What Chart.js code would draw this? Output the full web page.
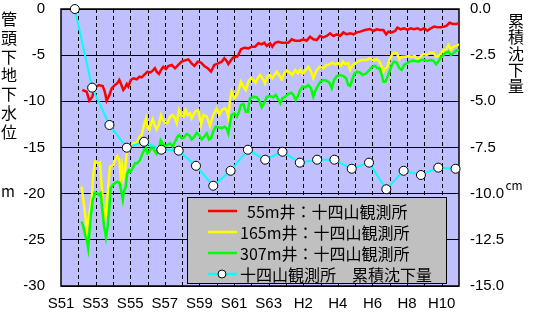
<!DOCTYPE html>
<html><head><meta charset="utf-8">
<script src="https://cdn.jsdelivr.net/npm/chart.js@4/dist/chart.umd.min.js"></script>
<style>html,body{margin:0;padding:0;background:#fff;}canvas{display:block;}</style>
</head><body>
<canvas id="c" width="533" height="320"></canvas>
<script>
// ---- data (year as decimal, value) ----
const xTickYears = [1976,1977,1978,1979,1980,1981,1982,1983,1984,1985,1986,1987,1988,1989,1990,1991,1992,1993,1994,1995,1996,1997,1998,1999];
const yLeftTicks = [0,-5,-10,-15,-20,-25,-30];
const yRightTicks = [0,-2.5,-5,-7.5,-10,-12.5,-15];

const well55 = [[1977.23,-8.77],[1977.48,-8.95],[1977.64,-9.93],[1977.81,-9.5],[1977.97,-8.48],[1978.2,-8.23],[1978.41,-8.34],[1978.53,-8.95],[1978.64,-9.93],[1978.8,-9.31],[1978.93,-8.59],[1979.12,-8.23],[1979.25,-8.05],[1979.37,-7.69],[1979.47,-8.12],[1979.6,-8.77],[1979.7,-8.52],[1979.8,-8.12],[1979.89,-8.41],[1980.03,-7.69],[1980.18,-7.5],[1980.38,-7.61],[1980.53,-7.33],[1980.66,-7.4],[1980.86,-7.04],[1980.99,-6.79],[1981.14,-6.9],[1981.3,-6.68],[1981.43,-6.42],[1981.53,-6.79],[1981.66,-7.04],[1981.78,-6.6],[1981.91,-6.25],[1982.07,-6.5],[1982.2,-6.17],[1982.4,-6.06],[1982.59,-6.42],[1982.78,-6.06],[1982.97,-5.7],[1983.17,-5.56],[1983.36,-5.45],[1983.55,-5.88],[1983.71,-6.17],[1983.9,-5.7],[1984.09,-5.81],[1984.28,-6.17],[1984.48,-6.42],[1984.67,-6.79],[1984.86,-6.06],[1985.09,-5.88],[1985.29,-5.7],[1985.44,-5.34],[1985.57,-5.63],[1985.67,-5.96],[1985.83,-5.52],[1985.96,-5.23],[1986.16,-5.17],[1986.25,-4.98],[1986.4,-4.36],[1986.6,-4.19],[1986.83,-4.26],[1987.02,-4.08],[1987.21,-4.08],[1987.41,-3.71],[1987.6,-3.82],[1987.75,-3.65],[1987.89,-4.0],[1988.08,-3.71],[1988.21,-4.08],[1988.37,-3.65],[1988.56,-3.54],[1988.76,-3.65],[1988.95,-3.65],[1989.14,-3.65],[1989.34,-3.28],[1989.53,-3.43],[1989.82,-3.43],[1990.0,-3.28],[1990.2,-3.43],[1990.39,-3.0],[1990.58,-3.28],[1990.78,-3.36],[1990.97,-2.9],[1991.16,-3.07],[1991.36,-2.92],[1991.55,-2.64],[1991.74,-2.92],[1991.94,-2.74],[1992.13,-2.92],[1992.32,-2.53],[1992.51,-2.74],[1992.71,-2.64],[1992.9,-2.74],[1993.1,-2.53],[1993.29,-2.45],[1993.57,-2.27],[1993.86,-2.17],[1994.05,-2.38],[1994.25,-2.2],[1994.44,-2.27],[1994.63,-2.27],[1994.79,-2.74],[1994.92,-2.45],[1995.12,-2.53],[1995.31,-2.38],[1995.44,-2.02],[1995.64,-2.2],[1995.83,-2.09],[1996.02,-2.27],[1996.21,-2.09],[1996.4,-2.2],[1996.6,-2.09],[1996.79,-2.27],[1996.98,-2.09],[1997.17,-2.35],[1997.37,-2.09],[1997.56,-1.91],[1997.75,-1.98],[1997.95,-1.98],[1998.14,-1.91],[1998.29,-1.8],[1998.45,-1.48],[1998.64,-1.62],[1998.83,-1.62],[1999.0,-1.55]];

const well165 = [[1977.19,-19.24],[1977.29,-20.68],[1977.39,-22.13],[1977.49,-23.93],[1977.77,-20.68],[1977.87,-17.79],[1977.97,-16.53],[1978.16,-16.71],[1978.25,-16.64],[1978.35,-19.24],[1978.45,-21.41],[1978.54,-22.8],[1978.64,-21.41],[1978.73,-19.24],[1978.83,-17.08],[1979.02,-16.9],[1979.12,-16.35],[1979.25,-15.92],[1979.37,-16.35],[1979.45,-18.16],[1979.53,-17.08],[1979.6,-18.34],[1979.7,-17.44],[1979.8,-15.63],[1979.89,-14.91],[1980.03,-14.91],[1980.18,-14.55],[1980.38,-14.48],[1980.53,-13.83],[1980.66,-13.65],[1980.8,-12.56],[1980.91,-11.84],[1980.99,-12.75],[1981.1,-13.1],[1981.18,-12.56],[1981.3,-11.95],[1981.41,-12.56],[1981.53,-13.03],[1981.65,-12.56],[1981.78,-11.48],[1981.91,-12.02],[1982.01,-12.38],[1982.14,-12.38],[1982.3,-11.66],[1982.45,-11.48],[1982.59,-11.84],[1982.69,-12.38],[1982.82,-10.94],[1982.94,-11.48],[1983.07,-11.66],[1983.2,-10.94],[1983.32,-11.48],[1983.46,-11.3],[1983.55,-11.84],[1983.75,-11.12],[1983.94,-10.94],[1984.09,-12.56],[1984.23,-11.48],[1984.42,-11.66],[1984.61,-12.67],[1984.8,-11.48],[1985.0,-10.76],[1985.15,-11.48],[1985.29,-10.94],[1985.44,-10.76],[1985.57,-10.94],[1985.67,-11.66],[1985.77,-9.86],[1985.86,-8.95],[1986.02,-9.67],[1986.16,-9.31],[1986.29,-8.59],[1986.4,-7.87],[1986.54,-8.41],[1986.68,-8.77],[1986.83,-7.87],[1986.98,-7.5],[1987.12,-7.69],[1987.25,-7.98],[1987.37,-7.5],[1987.5,-7.15],[1987.64,-7.5],[1987.79,-8.05],[1987.95,-7.26],[1988.08,-7.15],[1988.21,-7.5],[1988.33,-7.15],[1988.47,-6.79],[1988.6,-7.15],[1988.76,-7.61],[1988.91,-6.9],[1989.05,-6.68],[1989.24,-6.9],[1989.37,-7.15],[1989.53,-6.6],[1989.68,-6.96],[1989.82,-6.6],[1989.95,-7.04],[1990.1,-6.68],[1990.29,-6.25],[1990.45,-6.79],[1990.58,-7.5],[1990.78,-6.6],[1990.97,-6.25],[1991.16,-6.42],[1991.32,-6.06],[1991.45,-6.06],[1991.65,-5.81],[1991.84,-5.99],[1992.03,-5.88],[1992.17,-6.17],[1992.28,-5.7],[1992.42,-5.96],[1992.61,-5.88],[1992.71,-6.6],[1992.86,-6.06],[1993.05,-5.81],[1993.24,-5.6],[1993.44,-5.52],[1993.67,-5.52],[1993.86,-5.34],[1994.05,-5.6],[1994.25,-5.45],[1994.4,-5.7],[1994.54,-6.25],[1994.63,-6.79],[1994.75,-6.42],[1994.86,-6.25],[1994.98,-5.52],[1995.12,-4.98],[1995.25,-4.73],[1995.4,-4.73],[1995.55,-5.45],[1995.69,-5.17],[1995.88,-5.17],[1996.08,-5.09],[1996.27,-5.17],[1996.45,-5.09],[1996.6,-5.6],[1996.76,-5.17],[1996.94,-4.87],[1997.14,-4.98],[1997.33,-4.73],[1997.52,-4.73],[1997.68,-5.17],[1997.81,-5.09],[1997.95,-4.8],[1998.1,-4.44],[1998.25,-4.37],[1998.39,-3.9],[1998.52,-4.37],[1998.68,-4.08],[1998.83,-4.0],[1999.0,-3.83]];

const well307 = [[1977.19,-23.03],[1977.29,-23.57],[1977.39,-24.47],[1977.49,-25.0],[1977.57,-25.9],[1977.64,-24.29],[1977.72,-22.49],[1977.83,-20.68],[1977.97,-19.89],[1978.1,-19.96],[1978.21,-20.14],[1978.29,-19.96],[1978.39,-21.77],[1978.49,-23.57],[1978.6,-24.75],[1978.7,-23.57],[1978.8,-21.41],[1978.87,-19.42],[1978.99,-19.06],[1979.12,-18.88],[1979.25,-18.7],[1979.37,-18.81],[1979.47,-19.6],[1979.57,-20.68],[1979.64,-19.78],[1979.74,-19.24],[1979.83,-17.79],[1979.93,-17.44],[1980.03,-17.62],[1980.14,-17.25],[1980.28,-16.71],[1980.41,-16.71],[1980.57,-16.35],[1980.68,-15.81],[1980.8,-15.27],[1980.91,-15.09],[1980.99,-15.63],[1981.1,-15.45],[1981.24,-14.91],[1981.38,-15.27],[1981.53,-15.7],[1981.65,-15.27],[1981.76,-14.19],[1981.88,-14.55],[1981.99,-14.91],[1982.14,-14.73],[1982.3,-14.55],[1982.45,-14.91],[1982.59,-14.37],[1982.72,-13.83],[1982.84,-13.65],[1982.98,-14.0],[1983.11,-13.9],[1983.27,-13.54],[1983.42,-13.7],[1983.55,-14.12],[1983.71,-13.83],[1983.84,-13.4],[1983.98,-13.65],[1984.13,-14.12],[1984.28,-13.83],[1984.42,-13.47],[1984.55,-14.12],[1984.67,-14.0],[1984.8,-13.29],[1984.94,-12.75],[1985.09,-12.81],[1985.29,-12.92],[1985.44,-12.75],[1985.57,-12.92],[1985.67,-13.47],[1985.77,-12.38],[1985.86,-11.48],[1986.02,-11.3],[1986.16,-11.66],[1986.29,-11.12],[1986.4,-10.4],[1986.54,-10.29],[1986.68,-11.12],[1986.79,-11.12],[1986.92,-9.67],[1987.12,-9.5],[1987.31,-9.56],[1987.45,-9.86],[1987.6,-10.65],[1987.75,-10.15],[1987.89,-9.5],[1988.08,-9.42],[1988.27,-9.56],[1988.41,-9.31],[1988.56,-9.78],[1988.68,-10.22],[1988.79,-9.67],[1988.95,-9.5],[1989.14,-9.2],[1989.31,-9.06],[1989.43,-9.31],[1989.57,-9.86],[1989.68,-9.5],[1989.82,-8.77],[1989.95,-8.41],[1990.14,-8.48],[1990.29,-8.23],[1990.45,-8.59],[1990.58,-9.5],[1990.72,-8.77],[1990.87,-8.23],[1990.99,-7.87],[1991.16,-7.69],[1991.36,-7.76],[1991.51,-7.98],[1991.65,-8.59],[1991.78,-7.69],[1991.94,-7.26],[1992.13,-7.15],[1992.32,-7.26],[1992.48,-7.5],[1992.59,-8.23],[1992.71,-8.34],[1992.83,-7.69],[1992.95,-7.04],[1993.1,-6.79],[1993.29,-6.9],[1993.44,-7.15],[1993.64,-6.96],[1993.83,-6.6],[1993.99,-6.25],[1994.16,-6.17],[1994.28,-6.42],[1994.4,-6.42],[1994.54,-7.15],[1994.63,-7.87],[1994.75,-7.87],[1994.86,-7.4],[1994.98,-6.79],[1995.12,-6.06],[1995.25,-5.7],[1995.4,-5.81],[1995.55,-6.42],[1995.69,-6.6],[1995.83,-6.06],[1995.99,-5.88],[1996.13,-5.7],[1996.32,-5.6],[1996.51,-5.63],[1996.65,-5.7],[1996.79,-5.52],[1996.98,-5.52],[1997.17,-5.63],[1997.37,-5.52],[1997.52,-5.6],[1997.68,-5.99],[1997.81,-5.7],[1997.95,-5.23],[1998.1,-4.98],[1998.25,-4.73],[1998.39,-4.62],[1998.52,-4.98],[1998.68,-4.8],[1998.83,-4.51],[1999.0,-4.44]];

const subsidenceYears = [1976.8,1977.8,1978.8,1979.8,1980.8,1981.8,1982.8,1983.8,1984.8,1985.8,1986.8,1987.8,1988.8,1989.8,1990.8,1991.8,1992.8,1993.8,1994.8,1995.8,1996.8,1997.8,1998.8];
const subsidenceCm = [0,-4.26,-6.28,-7.51,-7.19,-7.62,-7.67,-8.49,-9.57,-8.76,-7.62,-8.16,-7.73,-8.32,-8.16,-8.16,-8.65,-8.32,-9.76,-8.76,-8.99,-8.59,-8.65];

const seriesNames = ['55m井：十四山観測所','165m井：十四山観測所','307m井：十四山観測所','十四山観測所　累積沈下量'];
const seriesColors = ['#ff0000','#ffff00','#00ff00','#00ffff'];
const leftTitle = '管頭下地下水位';
const rightTitle = '累積沈下量';

function yearLabel(y){
  if ((y - 1976) % 2 !== 0) return '';
  return y < 1989 ? 'S' + (y - 1925) : 'H' + (y - 1988);
}
const toPts = arr => arr.map(p => ({x:p[0], y:p[1]}));

const tickFont = {family:"'Liberation Sans','Noto Sans',sans-serif", size:15};
const jpFont = "'Noto Sans CJK JP','Noto Sans',sans-serif";

const decor = {
  id:'decor',
  beforeDraw(chart){
    const {ctx, chartArea:a} = chart;
    ctx.save();
    ctx.fillStyle = '#c0c0ff';
    ctx.fillRect(a.left, a.top, a.right-a.left, a.bottom-a.top);
    ctx.restore();
  },
  beforeDatasetsDraw(chart){
    const {ctx, chartArea:a, scales} = chart;
    ctx.save();
    ctx.strokeStyle = '#000'; ctx.lineWidth = 1;
    ctx.setLineDash([4,3]);
    xTickYears.slice(1,-1).forEach(v=>{
      const px = Math.round(scales.x.getPixelForValue(v)) + 0.5;
      ctx.beginPath(); ctx.moveTo(px, a.top); ctx.lineTo(px, a.bottom); ctx.stroke();
    });
    ctx.setLineDash([]);
    ctx.lineWidth = 1.5;
    ctx.strokeRect(a.left, a.top, a.right-a.left, a.bottom-a.top);
    ctx.restore();
  },
  afterDatasetsDraw(chart){
    const {ctx} = chart;
    ctx.save();
    const bx=187, by=197, bw=259, bh=86;
    ctx.fillStyle = '#c0c0c0';
    ctx.fillRect(bx,by,bw,bh);
    ctx.strokeStyle = '#000'; ctx.lineWidth = 1;
    ctx.strokeRect(bx+0.5,by+0.5,bw,bh);
    const rows = [211,232,253,274];
    ctx.font = '16px ' + jpFont;
    ctx.textBaseline = 'middle';
    ctx.textAlign = 'left';
    for (let i=0;i<4;i++){
      const y = rows[i];
      ctx.strokeStyle = seriesColors[i]; ctx.lineWidth = 2.5;
      ctx.beginPath(); ctx.moveTo(208,y); ctx.lineTo(237,y); ctx.stroke();
      if (i===3){
        ctx.beginPath(); ctx.arc(222,y,4,0,Math.PI*2);
        ctx.fillStyle='#fff'; ctx.fill();
        ctx.strokeStyle='#000'; ctx.lineWidth=1; ctx.stroke();
      }
      ctx.fillStyle = '#000';
      ctx.fillText(seriesNames[i], i===0 ? 247 : 240, y+1);
    }
    ctx.restore();
  },
  afterDraw(chart){
    const {ctx} = chart;
    ctx.save();
    ctx.fillStyle = '#000';
    ctx.textAlign = 'center';
    ctx.textBaseline = 'middle';
    ctx.font = '16px ' + jpFont;
    [...leftTitle].forEach((ch,i)=> ctx.fillText(ch, 9, 19 + i*18.8));
    ctx.font = '15px ' + jpFont;
    ctx.fillText('m', 8, 191);
    ctx.font = '16px ' + jpFont;
    [...rightTitle].forEach((ch,i)=> ctx.fillText(ch, 516, 21 + i*16.3));
    ctx.font = '12px ' + jpFont;
    ctx.fillText('cm', 514, 185);
    ctx.restore();
  }
};

new Chart(document.getElementById('c'), {
  type:'line',
  plugins:[decor],
  data:{
    datasets:[
      {label:seriesNames[0], data:toPts(well55), borderColor:seriesColors[0], borderWidth:2.5, pointRadius:0, yAxisID:'y', order:4},
      {label:seriesNames[1], data:toPts(well165), borderColor:seriesColors[1], borderWidth:2.5, pointRadius:0, yAxisID:'y', order:3},
      {label:seriesNames[2], data:toPts(well307), borderColor:seriesColors[2], borderWidth:2.5, pointRadius:0, yAxisID:'y', order:2},
      {label:seriesNames[3], data:subsidenceYears.map((x,i)=>({x, y:subsidenceCm[i]})), borderColor:seriesColors[3], borderWidth:2,
       pointRadius:4.5, pointBackgroundColor:'#fff', pointBorderColor:'#000', pointBorderWidth:1, yAxisID:'y1', order:1, clip:false}
    ]
  },
  options:{
    responsive:false, animation:false,
    layout:{padding:{top:9,left:0,right:0,bottom:0}},
    plugins:{legend:{display:false}, tooltip:{enabled:false}},
    elements:{line:{tension:0}},
    scales:{
      x:{type:'linear', min:xTickYears[0], max:xTickYears[xTickYears.length-1],
         afterBuildTicks(s){ s.ticks = xTickYears.map(v=>({value:v})); },
         ticks:{stepSize:1, autoSkip:false, maxRotation:0, padding:9, color:'#000', font:tickFont, callback:v=>yearLabel(v)},
         grid:{display:false, drawTicks:false},
         border:{display:false},
         afterFit(s){ s.height = 34; s.paddingLeft=0; s.paddingRight=0; }
      },
      y:{position:'left', min:-30, max:0,
         afterBuildTicks(s){ s.ticks = yLeftTicks.map(v=>({value:v})); },
         ticks:{padding:16, color:'#000', font:tickFont},
         grid:{color:'#000', lineWidth:1, drawTicks:false},
         border:{display:false},
         afterFit(s){ s.width = 61; s.paddingTop=0; s.paddingBottom=0; }
      },
      y1:{position:'right', min:-15, max:0,
         afterBuildTicks(s){ s.ticks = yRightTicks.map(v=>({value:v})); },
         ticks:{padding:11, color:'#000', font:tickFont, callback:v=>Number(v).toFixed(1)},
         grid:{drawOnChartArea:false, drawTicks:false},
         border:{display:false},
         afterFit(s){ s.width = 74; s.paddingTop=0; s.paddingBottom=0; }
      }
    }
  }
});
</script>
</body></html>
